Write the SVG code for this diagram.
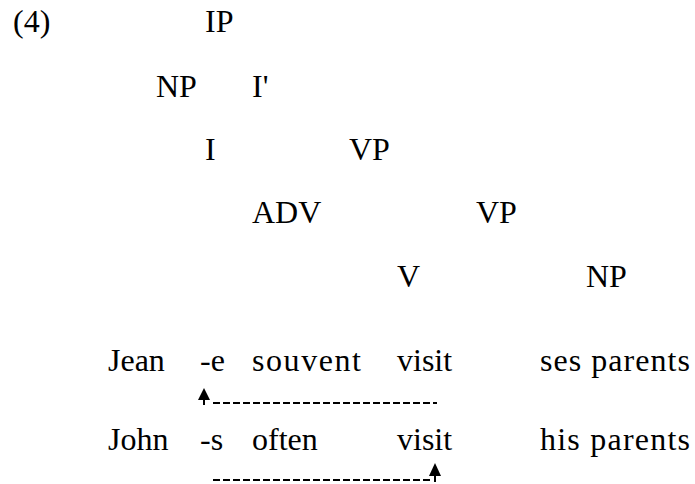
<svg xmlns="http://www.w3.org/2000/svg" width="695" height="484" viewBox="0 0 695 484">
<style>
.t{font-family:'Liberation Serif','Times New Roman',serif;font-size:32px;fill:#000}
.dash{fill:none;stroke:#000;stroke-width:2;stroke-dasharray:7 3}
.stem{fill:none;stroke:#000;stroke-width:2}
</style>
<rect width="695" height="484" fill="#fff"/>
<g class="t">
<g id="label-4"><text x="13" y="32">(4)</text></g>
<g id="node-IP"><text x="205" y="32">IP</text></g>
<g id="node-NP1"><text x="156" y="97">NP</text></g>
<g id="node-Ibar"><text x="252" y="97">I'</text></g>
<g id="node-I"><text x="205" y="160">I</text></g>
<g id="node-VP1"><text x="349" y="160">VP</text></g>
<g id="node-ADV"><text x="252" y="223">ADV</text></g>
<g id="node-VP2"><text x="476" y="223">VP</text></g>
<g id="node-V"><text x="397" y="287">V</text></g>
<g id="node-NP2"><text x="586" y="287">NP</text></g>
<g id="row-french">
<text x="108" y="371">Jean</text>
<text x="200" y="371">-e</text>
<text x="252" y="371" textLength="109" lengthAdjust="spacing">souvent</text>
<text x="397" y="371">visit</text>
<text x="540" y="371" textLength="150" lengthAdjust="spacing">ses parents</text>
</g>
<g id="row-english">
<text x="108" y="450">John</text>
<text x="200" y="450">-s</text>
<text x="252" y="450">often</text>
<text x="397" y="450">visit</text>
<text x="540" y="450" textLength="150" lengthAdjust="spacing">his parents</text>
</g>
</g>
<g id="connectors">
<path class="dash" d="M213,403 H437"/>
<path class="stem" d="M204,405 V398"/>
<path d="M198,400 L204,388 L210,400 Z" fill="#000"/>
<path class="dash" d="M213,480 H430"/>
<path class="stem" d="M435,482 V474"/>
<path d="M429,476 L435,463 L441,476 Z" fill="#000"/>
</g>
</svg>
